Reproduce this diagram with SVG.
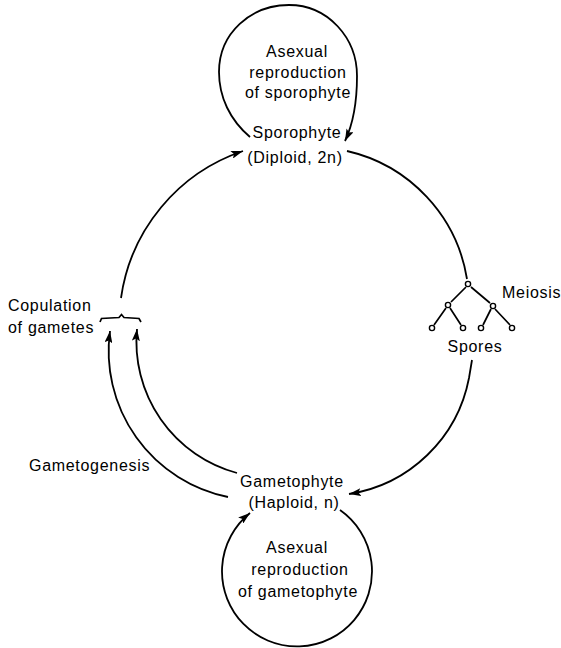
<svg xmlns="http://www.w3.org/2000/svg" width="561" height="648" viewBox="0 0 561 648">
<defs>
<marker id="ah" markerUnits="userSpaceOnUse" markerWidth="12" markerHeight="8" refX="12" refY="4" orient="auto">
<path d="M0,0 L12,4 L0,8 L2.5,4 z" fill="#000"/>
</marker>
<style>
.t{font-family:"Liberation Sans",Arial,sans-serif;font-size:16px;letter-spacing:0.7px;fill:#000;text-anchor:middle}
.s{text-anchor:start}
.c{fill:none;stroke:#000;stroke-width:1.8}
.a{marker-end:url(#ah)}
.n{fill:#fff;stroke:#000;stroke-width:1.4}
.l{stroke:#000;stroke-width:1.7;fill:none}
</style>
</defs>
<rect width="561" height="648" fill="#fff"/>
<g id="sporophyte">
<text class="t" x="297" y="57">Asexual</text>
<text class="t" x="298" y="78">reproduction</text>
<text class="t" x="298" y="98">of sporophyte</text>
<text class="t" x="297" y="138">Sporophyte</text>
<text class="t" x="295" y="163">(Diploid, 2n)</text>
</g>
<g id="meiosis">
<circle class="n" cx="468" cy="284" r="2.6"/>
<circle class="n" cx="448" cy="305" r="2.6"/>
<circle class="n" cx="493" cy="306" r="2.6"/>
<circle class="n" cx="432" cy="328" r="2.6"/>
<circle class="n" cx="463" cy="328" r="2.6"/>
<circle class="n" cx="481" cy="328" r="2.6"/>
<circle class="n" cx="512" cy="328" r="2.6"/>
<path class="l" d="M466,287 L451,302 M471,287 L490,303 M446,308 L434,325 M450,308 L461,325 M491,309 L483,325 M495,309 L510,325"/>
<text class="t s" x="502" y="298">Meiosis</text>
<text class="t" x="475" y="352">Spores</text>
</g>
<g id="copulation">
<text class="t s" x="8" y="311">Copulation</text>
<text class="t s" x="8" y="333">of gametes</text>
<path class="l" d="M100,322 L101.5,318.5 L119,317.5 L121.5,314.5 L124,317.5 L139,318.5 L141,322"/>
</g>
<g id="gametogenesis">
<text class="t s" x="29" y="471">Gametogenesis</text>
</g>
<g id="gametophyte">
<text class="t" x="292" y="487">Gametophyte</text>
<text class="t" x="294" y="508">(Haploid, n)</text>
<text class="t" x="297" y="553">Asexual</text>
<text class="t" x="300" y="575">reproduction</text>
<text class="t" x="298" y="597">of gametophyte</text>
</g>
<g id="connectors">
<path class="c a" d="M250,137 C230,120 219,97 219,72 C219,33 251,5 289,5 C328,5 357,38 357,76 C357,100 354,122 345,141"/>
<path class="c a" d="M121,298 A182 182 0 0 1 243,151"/>
<path class="c" d="M347,151 A157 157 0 0 1 467,279"/>
<path class="c a" d="M472,360 L469,378 A145 145 0 0 1 349,494"/>
<path class="c a" d="M228,497 A149 149 0 0 1 110,331"/>
<path class="c a" d="M237,473 A136 136 0 0 1 137,329"/>
<path class="c a" d="M340,510 A75 75 0 1 1 250,513"/>
</g>
</svg>
